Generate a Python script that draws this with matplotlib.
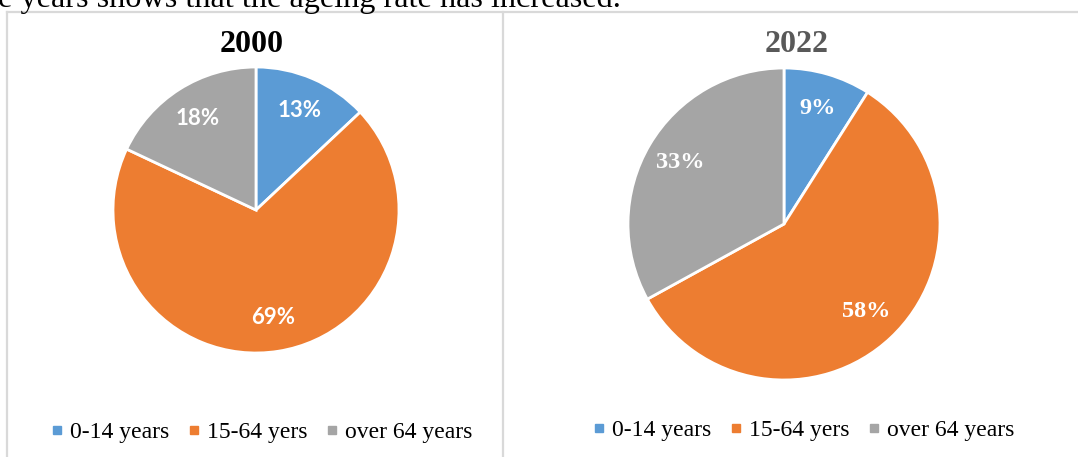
import matplotlib
matplotlib.use("Agg")
import matplotlib.pyplot as plt
from matplotlib.lines import Line2D

# data
groups = ["0-14 years", "15-64 yers", "over 64 years"]
share_2000 = [13, 69, 18]
share_2022 = [9, 58, 33]
colors = ["#5B9BD5", "#ED7D31", "#A5A5A5"]

W, H = 1078, 457
fig = plt.figure(figsize=(W / 100, H / 100), dpi=100)
fig.patch.set_facecolor("white")

serif = "Liberation Serif"


def px_axes(cx, cy, r):
    # square axes in pixel coords (y from top)
    return fig.add_axes([(cx - r) / W, (H - cy - r) / H, 2 * r / W, 2 * r / H])


# cropped sentence from the page above the charts
fig.text(-2 / W, 1 - 7 / H, "e years shows that the ageing rate has increased.",
         family=serif, fontsize=23.2, va="baseline", ha="left", color="black")

# panel borders
border = "#D9D9D9"
fig.add_artist(Line2D([7 / W, 7 / W], [0, 1 - 12 / H], color=border, lw=1.6,
                      transform=fig.transFigure))
fig.add_artist(Line2D([503 / W, 503 / W], [0, 1 - 12 / H], color=border, lw=1.6,
                      transform=fig.transFigure))
fig.add_artist(Line2D([7 / W, 1], [1 - 12 / H, 1 - 12 / H], color=border, lw=1.6,
                      transform=fig.transFigure))

# left pie: 2000
ax1 = px_axes(256, 210, 143)
w1, t1, a1 = ax1.pie(share_2000, colors=colors, startangle=90, counterclock=False,
                     autopct=lambda p: f"{p:.0f}%", pctdistance=0.76,
                     wedgeprops=dict(edgecolor="white", linewidth=2),
                     textprops=dict(color="white", family="Lato",
                                    fontweight="bold", fontsize=16))
ax1.set_xlim(-1, 1)
ax1.set_ylim(-1, 1)
fig.text(252 / W, 1 - 44 / H, "2000", family=serif, fontweight="bold",
         fontsize=23, ha="center", va="center", color="black")

# right pie: 2022
ax2 = px_axes(784, 224, 156)
w2, t2, a2 = ax2.pie(share_2022, colors=colors, startangle=90, counterclock=False,
                     autopct=lambda p: f"{p:.0f}%", pctdistance=0.77,
                     wedgeprops=dict(edgecolor="white", linewidth=2),
                     textprops=dict(color="white", family=serif,
                                    fontweight="bold", fontsize=17.5))
ax2.set_xlim(-1, 1)
ax2.set_ylim(-1, 1)
fig.text(797 / W, 1 - 45 / H, "2022", family=serif, fontweight="bold",
         fontsize=23, ha="center", va="center", color="#595959")

# legends
handles = [Line2D([], [], marker="s", linestyle="", markersize=5.5,
                  markerfacecolor=c, markeredgecolor=c) for c in colors]
for cx, cy in [(262, 432), (804, 430)]:
    fig.legend(handles, groups, loc="center", bbox_to_anchor=(cx / W, 1 - cy / H),
               ncol=3, frameon=False, handlelength=0.4, handletextpad=0.35,
               columnspacing=0.85, prop=dict(family=serif, size=17))

fig.savefig("out.png", dpi=100, facecolor="white")
